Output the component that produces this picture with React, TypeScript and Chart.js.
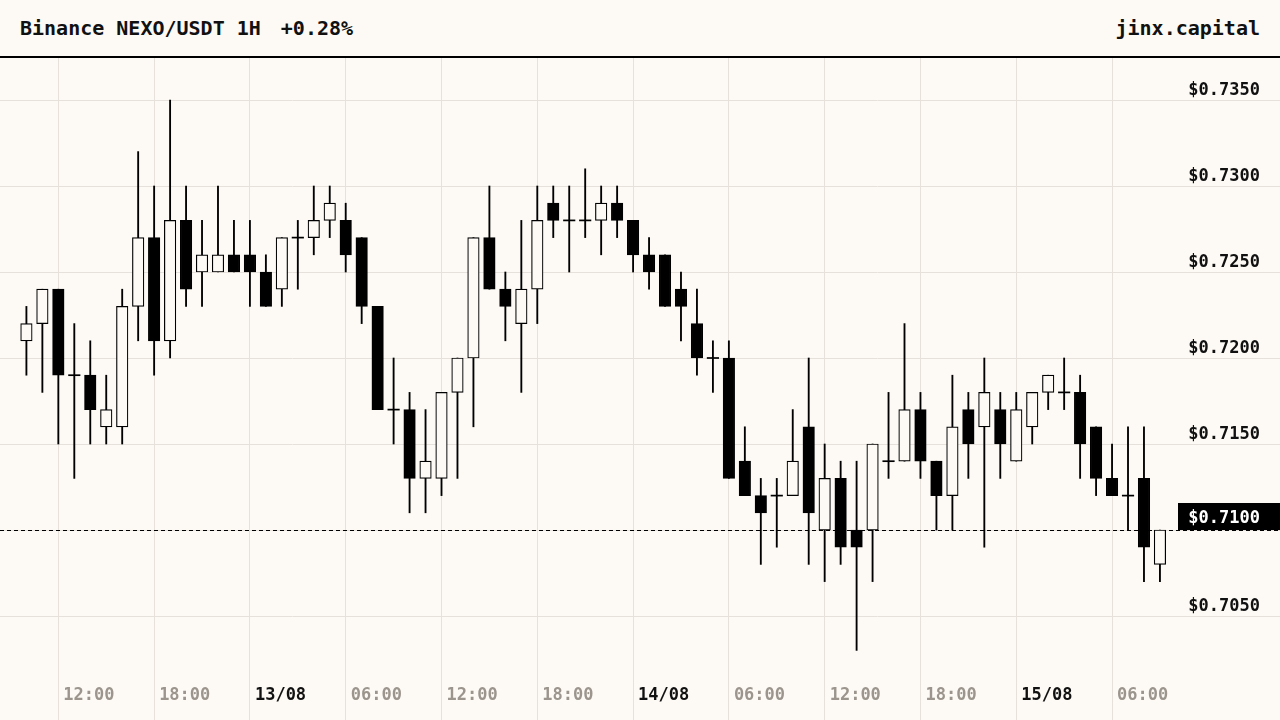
import React, { useEffect, useRef } from "react";
import { Chart, registerables } from "chart.js";

Chart.register(...registerables);

// ---- data (1H candles, 12/08 10:00 -> 15/08 09:00) ----
const opens = [
  0.721, 0.722, 0.724, 0.719, 0.719, 0.716, 0.716, 0.723, 0.727, 0.721, 0.728, 0.725,
  0.725, 0.726, 0.726, 0.725, 0.724, 0.727, 0.727, 0.728, 0.728, 0.727, 0.723, 0.717,
  0.717, 0.713, 0.713, 0.718, 0.720, 0.727, 0.724, 0.722, 0.724, 0.729, 0.728, 0.728,
  0.728, 0.729, 0.728, 0.726, 0.726, 0.724, 0.722, 0.720, 0.720, 0.714, 0.712, 0.712,
  0.712, 0.716, 0.710, 0.713, 0.710, 0.710, 0.714, 0.714, 0.717, 0.714, 0.712, 0.717,
  0.716, 0.717, 0.714, 0.716, 0.718, 0.718, 0.718, 0.716, 0.713, 0.712, 0.713, 0.708,
];
const highs = [
  0.723, 0.724, 0.724, 0.722, 0.721, 0.719, 0.724, 0.732, 0.730, 0.735, 0.730, 0.728,
  0.730, 0.728, 0.728, 0.726, 0.727, 0.728, 0.730, 0.730, 0.729, 0.727, 0.723, 0.720,
  0.718, 0.717, 0.718, 0.720, 0.727, 0.730, 0.725, 0.728, 0.730, 0.730, 0.730, 0.731,
  0.730, 0.730, 0.728, 0.727, 0.726, 0.725, 0.724, 0.721, 0.721, 0.716, 0.713, 0.713,
  0.717, 0.720, 0.715, 0.714, 0.714, 0.715, 0.718, 0.722, 0.718, 0.714, 0.719, 0.718,
  0.720, 0.718, 0.718, 0.718, 0.719, 0.720, 0.719, 0.716, 0.715, 0.716, 0.716, 0.710,
];
const lows = [
  0.719, 0.718, 0.715, 0.713, 0.715, 0.715, 0.715, 0.721, 0.719, 0.720, 0.723, 0.723,
  0.725, 0.725, 0.723, 0.723, 0.723, 0.724, 0.726, 0.727, 0.725, 0.722, 0.717, 0.715,
  0.711, 0.711, 0.712, 0.713, 0.716, 0.724, 0.721, 0.718, 0.722, 0.727, 0.725, 0.727,
  0.726, 0.727, 0.725, 0.724, 0.723, 0.721, 0.719, 0.718, 0.713, 0.712, 0.708, 0.709,
  0.712, 0.708, 0.707, 0.708, 0.703, 0.707, 0.713, 0.714, 0.713, 0.710, 0.710, 0.713,
  0.709, 0.713, 0.714, 0.715, 0.717, 0.717, 0.713, 0.712, 0.712, 0.710, 0.707, 0.707,
];
const closes = [
  0.722, 0.724, 0.719, 0.719, 0.717, 0.717, 0.723, 0.727, 0.721, 0.728, 0.724, 0.726,
  0.726, 0.725, 0.725, 0.723, 0.727, 0.727, 0.728, 0.729, 0.726, 0.723, 0.717, 0.717,
  0.713, 0.714, 0.718, 0.720, 0.727, 0.724, 0.723, 0.724, 0.728, 0.728, 0.728, 0.728,
  0.729, 0.728, 0.726, 0.725, 0.723, 0.723, 0.720, 0.720, 0.713, 0.712, 0.711, 0.712,
  0.714, 0.711, 0.713, 0.709, 0.709, 0.715, 0.714, 0.717, 0.714, 0.712, 0.716, 0.715,
  0.718, 0.715, 0.717, 0.718, 0.719, 0.718, 0.715, 0.713, 0.712, 0.712, 0.709, 0.710,
];

const timeTickIndex = [2, 8, 14, 20, 26, 32, 38, 44, 50, 56, 62, 68];
const timeTickLabels = [
  "12:00", "18:00", "13/08", "06:00", "12:00", "18:00",
  "14/08", "06:00", "12:00", "18:00", "15/08", "06:00",
];
const priceTicks = [0.705, 0.71, 0.715, 0.72, 0.725, 0.73, 0.735];

const titleText = "Binance NEXO/USDT 1H";
const changeText = "+0.28%";
const brandText = "jinx.capital";

// ---- style ----
const BG = "#fdfaf5";
const GRID = "#e6e1da";
const INK = "#111111";
const MUTED = "#9b958d";
const FONT = "'DejaVu Sans Mono', monospace";

const lastPrice = closes[closes.length - 1];
const fmtPrice = (v: number) => "$" + v.toFixed(4);

export default function App() {
  const canvasRef = useRef<HTMLCanvasElement | null>(null);

  useEffect(() => {
    document.body.style.margin = "0";
    const canvas = canvasRef.current;
    if (!canvas) return;

    const idx = opens.map((_, i) => i);
    const isDoji = (i: number) => opens[i] === closes[i];
    const eps = 0.00003;

    const bodyData = idx.map((i) => {
      const o = opens[i];
      const c = closes[i];
      if (o === c) return { x: i, y: [o - eps, o + eps] };
      return { x: i, y: [Math.min(o, c), Math.max(o, c)] };
    });
    const wickData = idx.map((i) => ({ x: i, y: [lows[i], highs[i]] }));

    const lastPricePlugin = {
      id: "lastPrice",
      beforeDatasetsDraw(chart: any) {
        const ctx = chart.ctx;
        const y = Math.round(chart.scales.y.getPixelForValue(lastPrice)) + 0.5;
        ctx.save();
        ctx.strokeStyle = "#000";
        ctx.lineWidth = 1;
        ctx.setLineDash([4, 3]);
        ctx.beginPath();
        ctx.moveTo(0, y);
        ctx.lineTo(chart.width, y);
        ctx.stroke();
        ctx.restore();
      },
      afterDraw(chart: any) {
        const ctx = chart.ctx;
        const ys = chart.scales.y;
        const y = Math.round(ys.getPixelForValue(lastPrice));
        const left = ys.left + 8;
        ctx.save();
        ctx.fillStyle = "#000";
        ctx.fillRect(left, y - 27, chart.width - left, 27);
        ctx.fillStyle = "#ffffff";
        ctx.font = "bold 17px " + FONT;
        ctx.textAlign = "right";
        ctx.textBaseline = "middle";
        ctx.fillText(fmtPrice(lastPrice), ys.right, y - 11.5);
        ctx.restore();
      },
    };

    const chart = new Chart(canvas, {
      type: "bar",
      data: {
        datasets: [
          {
            label: "body",
            data: bodyData as any,
            grouped: false,
            barThickness: 11.5,
            backgroundColor: idx.map((i) =>
              isDoji(i) ? "#000" : closes[i] > opens[i] ? BG : "#000"
            ),
            borderColor: "#000",
            borderWidth: idx.map((i) => (isDoji(i) ? 0 : 1.2)),
            borderSkipped: false,
          } as any,
          {
            label: "wick",
            data: wickData as any,
            grouped: false,
            barThickness: 1.2,
            backgroundColor: "#000",
            borderWidth: 0,
          } as any,
        ],
      },
      options: {
        animation: false,
        responsive: true,
        maintainAspectRatio: false,
        layout: { padding: { left: 0, right: 20, top: 0, bottom: 0 } },
        plugins: {
          legend: { display: false },
          tooltip: { enabled: false },
          title: { display: false },
        },
        scales: {
          x: {
            type: "linear",
            min: -1.654,
            max: 71.63,
            offset: false,
            border: { display: false },
            grid: { color: GRID, lineWidth: 1, tickLength: 60, drawTicks: true, offset: false },
            afterBuildTicks: (scale: any) => {
              scale.ticks = timeTickIndex.map((v) => ({ value: v }));
            },
            afterFit: (scale: any) => {
              scale.height = 60;
              scale.paddingLeft = 0;
              scale.paddingRight = 0;
            },
            ticks: {
              autoSkip: false,
              maxRotation: 0,
              minRotation: 0,
              align: "start",
              labelOffset: 5,
              padding: -35,
              font: { family: FONT, size: 17, weight: "bold" },
              color: (ctx: any) => {
                const k = timeTickIndex.indexOf(ctx.tick?.value);
                return k >= 0 && timeTickLabels[k].includes("/") ? INK : MUTED;
              },
              callback: (value: any) => {
                const k = timeTickIndex.indexOf(Number(value));
                return k >= 0 ? timeTickLabels[k] : "";
              },
            },
          } as any,
          y: {
            type: "linear",
            position: "right",
            min: 0.702442,
            max: 0.737442,
            border: { display: false },
            grid: { color: GRID, lineWidth: 1, tickLength: 110, drawTicks: true },
            afterBuildTicks: (scale: any) => {
              scale.ticks = priceTicks.map((v) => ({ value: v }));
            },
            afterFit: (scale: any) => {
              scale.width = 90;
              scale.paddingTop = 0;
              scale.paddingBottom = 0;
            },
            ticks: {
              crossAlign: "far",
              labelOffset: -9,
              padding: 0,
              font: { family: FONT, size: 17, weight: "bold" },
              color: INK,
              callback: (value: any) => fmtPrice(Number(value)),
            },
          } as any,
        },
      },
      plugins: [lastPricePlugin],
    } as any);

    return () => chart.destroy();
  }, []);

  return (
    <div
      style={{
        position: "fixed",
        left: 0,
        top: 0,
        width: 1280,
        height: 720,
        background: BG,
        overflow: "hidden",
      }}
    >
      <div
        style={{
          height: 56,
          borderBottom: "2px solid #000",
          display: "flex",
          alignItems: "center",
          justifyContent: "space-between",
          padding: "0 20px 0 20px",
          fontFamily: FONT,
          fontWeight: "bold",
          fontSize: 20,
          color: INK,
          whiteSpace: "pre",
        }}
      >
        <span>
          {titleText}
          <span style={{ marginLeft: 20 }}>{changeText}</span>
        </span>
        <span>{brandText}</span>
      </div>
      <div style={{ position: "relative", width: 1280, height: 662 }}>
        <canvas ref={canvasRef} />
      </div>
    </div>
  );
}
